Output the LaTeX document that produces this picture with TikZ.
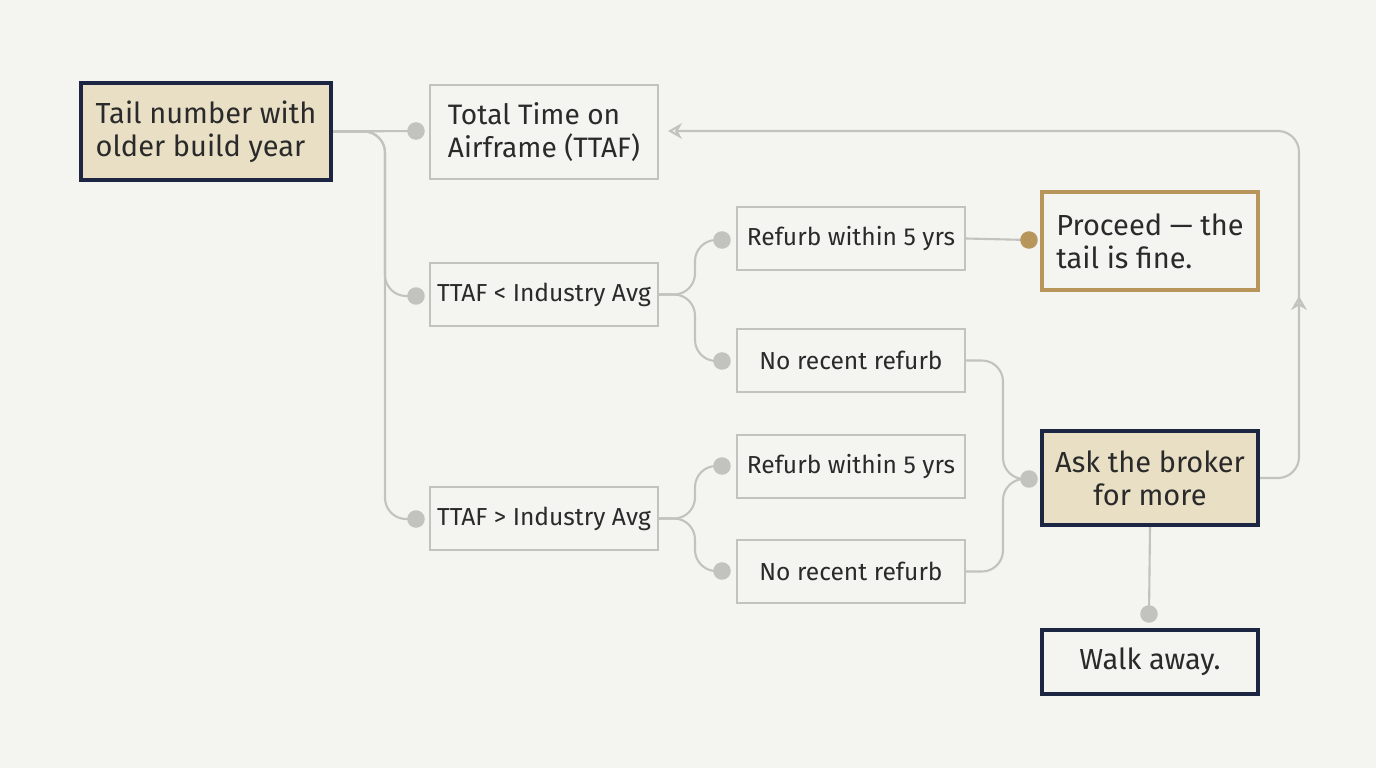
\documentclass[tikz,border=0pt]{standalone}
\usepackage{fontspec}
\setmainfont{Fira Sans}
\usepackage{xcolor}
\usetikzlibrary{positioning, arrows.meta, calc}
\definecolor{bgcol}{HTML}{F4F4F1}
\definecolor{navy}{HTML}{1C2541}
\definecolor{beige}{HTML}{E8DFC5}
\definecolor{gold}{HTML}{B8955A}
\definecolor{wire}{HTML}{C2C2BE}
\definecolor{ink}{HTML}{2A2A2A}

\begin{document}
\begin{tikzpicture}[x=0.02cm, y=-0.02cm,
  box/.style={draw=wire, line width=1.2pt, fill=bgcol, align=left, text=ink, font=\fontsize{14}{17}\selectfont, inner sep=0pt},
  key/.style={draw=navy, line width=2.4pt, fill=beige, align=left, text=ink, font=\fontsize{16.5}{19}\selectfont\mdseries, inner sep=0pt},
  link/.style={wire, line width=1.2pt, rounded corners=12pt},
  dot/.style={circle, fill=wire, inner sep=0pt, minimum size=10pt}
]
\fill[bgcol] (0,0) rectangle (1376,768);

\node[key, minimum width=250*0.02cm, minimum height=97*0.02cm] (tail) at (206,131.5) {Tail number with\\older build year};
\node[box, minimum width=228*0.02cm, minimum height=94*0.02cm, font=\fontsize{16}{19}\selectfont] (ttaf) at (544,132) {Total Time on\\Airframe (TTAF)};
\node[box, minimum width=228*0.02cm, minimum height=63*0.02cm] (low) at (544,294.5) {TTAF < Industry Avg};
\node[box, minimum width=228*0.02cm, minimum height=63*0.02cm] (high) at (544,518.5) {TTAF > Industry Avg};

\node[box, minimum width=228*0.02cm, minimum height=63*0.02cm] (lowref) at (851,238.5) {Refurb within 5 yrs};
\node[box, minimum width=228*0.02cm, minimum height=63*0.02cm] (lownone) at (851,360.5) {No recent refurb};
\node[box, minimum width=228*0.02cm, minimum height=63*0.02cm] (highref) at (851,466.5) {Refurb within 5 yrs};
\node[box, minimum width=228*0.02cm, minimum height=63*0.02cm] (highnone) at (851,571.5) {No recent refurb};

\node[key, draw=gold, fill=bgcol, minimum width=216*0.02cm, minimum height=98*0.02cm] (go) at (1150,241) {Proceed — the\\tail is fine.};
\node[key, minimum width=216*0.02cm, minimum height=94*0.02cm, align=center] (ask) at (1150,478) {Ask the broker\\for more};
\node[key, fill=bgcol, minimum width=216*0.02cm, minimum height=64*0.02cm] (walk) at (1150,662) {Walk away.};

\coordinate (back) at (668,131);
\coordinate (mid) at (1299,296);

% tail to the three TTAF boxes
\draw[link] (tail.east) -- (416,131);
\draw[link] (tail.east) -| (385,296) -- (416,296);
\draw[link] (tail.east) -| (385,519) -- (416,519);
\node[dot] at (416,131) {};
\node[dot] at (416,296) {};
\node[dot] at (416,519) {};

% refurb branches
\draw[link] (low.east) -| (695,240) -- (722,240);
\draw[link] (low.east) -| (695,361) -- (722,361);
\draw[link] (high.east) -| (695,466) -- (722,466);
\draw[link] (high.east) -| (695,571) -- (722,571);
\foreach \y in {240,361,466,571} \node[dot] at (722,\y) {};

% outcomes
\draw[link] (lowref.east) -- (1029,240);
\node[dot, fill=gold] at (1029,240) {};
\draw[link] (lownone.east) -| (1003,479) -- (1029,479);
\draw[link] (highnone.east) -| (1003,479) -- (1029,479);
\node[dot] at (1029,479) {};
\draw[link] (ask.south) -- (1149,614);
\node[dot] at (1149,614) {};

% loop back to TTAF
\draw[link, -{Stealth[open, length=8pt, width=9pt]}] (ask.east) -| (1299,131) -- (back);
\draw[link, -{Stealth[open, length=8pt, width=9pt]}] (1299,340) -- (mid);
\end{tikzpicture}
\end{document}
